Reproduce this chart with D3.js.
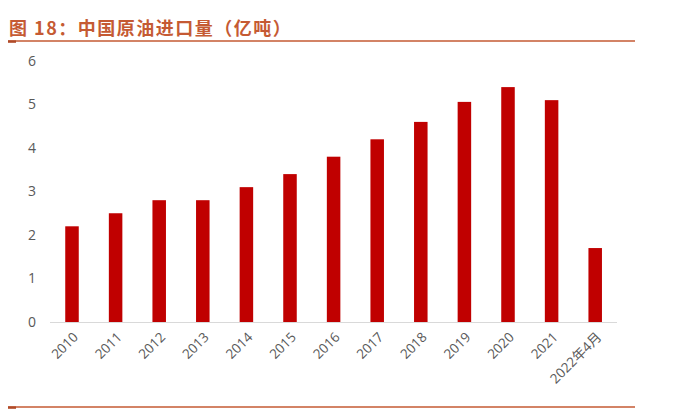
<!DOCTYPE html>
<html><head><meta charset="utf-8">
<script src="https://cdn.jsdelivr.net/npm/d3@7"></script>
<style>body{margin:0;background:#fff;}svg{display:block;}</style>
</head><body>
<script>
const categories = ["2010","2011","2012","2013","2014","2015","2016","2017","2018","2019","2020","2021","2022年4月"];
const values = [2.2,2.5,2.8,2.8,3.1,3.4,3.8,4.2,4.6,5.06,5.4,5.1,1.7];
const yTicks = [0,1,2,3,4,5,6];
const title = "图 18：中国原油进口量（亿吨）";

const W=700,H=410;
const svg=d3.select("body").append("svg").attr("width",W).attr("height",H);
const accent="#C55A33";

svg.append("text").attr("x",9).attr("y",35)
  .attr("font-family","'Noto Sans CJK SC'").attr("font-weight","bold")
  .attr("font-size",18).attr("letter-spacing",1.5).attr("fill",accent).text(title);
[41,407].forEach(yy=>{
  svg.append("line").attr("x1",8).attr("x2",635).attr("y1",yy).attr("y2",yy).attr("stroke",accent).attr("stroke-width",1.3);
  svg.append("rect").attr("x",8).attr("y",yy-0.6).attr("width",8).attr("height",2.4).attr("fill","#B04A28");
});

const x=d3.scaleBand().domain(categories).range([50.2,617]).paddingInner(0.69).paddingOuter(0.345);
const y=d3.scaleLinear().domain([0,6]).range([322,61]);

svg.append("line").attr("x1",50).attr("x2",617).attr("y1",y(0)+0.5).attr("y2",y(0)+0.5).attr("stroke","#d9d9d9").attr("stroke-width",1);

const font="'Open Sans', 'Noto Sans CJK SC', sans-serif";
svg.append("g").selectAll("text").data(yTicks).join("text")
  .attr("x",36).attr("y",d=>y(d)).attr("dy","0.35em").attr("text-anchor","end")
  .attr("font-family",font).attr("font-size",14).attr("fill","#595959")
  .text(d=>d);

svg.selectAll("rect.bar").data(values).join("rect").attr("class","bar")
  .attr("x",(d,i)=>x(categories[i])).attr("width",x.bandwidth())
  .attr("y",d=>y(d)).attr("height",d=>y(0)-y(d)).attr("fill","#C00000");

svg.selectAll("text.xl").data(categories).join("text").attr("class","xl")
  .attr("text-anchor","end")
  .attr("transform",d=>`translate(${x(d)+x.bandwidth()/2+7},${338}) rotate(-45)`)
  .attr("font-family",font).attr("font-size",13.5).attr("fill","#595959")
  .text(d=>d);
</script>
</body></html>
